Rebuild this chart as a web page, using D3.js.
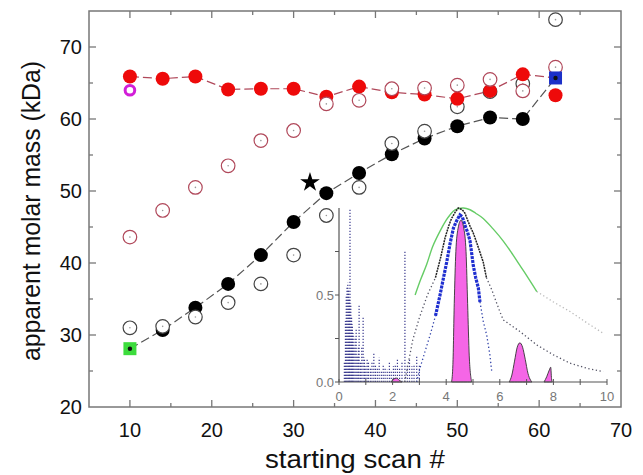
<!DOCTYPE html>
<html>
<head>
<meta charset="utf-8">
<script src="https://cdn.jsdelivr.net/npm/d3@7"></script>
<style>
  body { margin: 0; background: #fff; }
  svg text { font-family: "Liberation Sans", Arial, sans-serif; }
</style>
</head>
<body>
<svg id="mainSvg" width="643" height="475"></svg>
<script>
// ---- main plot data ----
var scans = [10, 14, 18, 22, 26, 30, 34, 38, 42, 46, 50, 54, 58, 62];
var redFilled = [65.9, 65.6, 65.9, 64.1, 64.2, 64.2, 63.1, 64.5, 63.7, 63.4, 62.8, 63.9, 66.2, 63.3];
var redOpen = [43.6, 47.3, 50.5, 53.5, 57.0, 58.4, 62.1, 62.6, 64.2, 64.3, 64.7, 65.5, 63.9, 67.2];
var blackFilled = [null, 30.7, 33.8, 37.1, 41.1, 45.7, 49.7, 52.5, 55.1, 57.3, 59.0, 60.2, 60.0, null];
var blackOpen = [31.0, 31.2, 32.5, 34.5, 37.1, 41.1, 46.6, 50.5, 56.6, 58.3, 61.7, 63.8, 64.9, 73.8];
var greenSquare = [10, 28.1];
var blueSquare = [62, 65.7];
var magentaRing = [10, 64.0];
var starPoint = [32, 51.2];
var xTicks = [10, 20, 30, 40, 50, 60, 70];
var yTicks = [20, 30, 40, 50, 60, 70];

// ---- inset data (x: 0..10, y: 0..1) ----
var insetXTicks = [0, 2, 4, 6, 8, 10];
var insetYTicks = [0.0, 0.5];
var streakX =   [0.2, 0.24, 0.27, 0.3, 0.33, 0.36, 0.39, 0.41, 0.44, 0.47, 0.5, 0.53, 0.56, 0.6, 0.64, 0.68, 0.72, 0.75, 0.8, 0.85, 0.9, 0.95, 1.0, 1.05, 1.1, 1.17, 1.23, 1.3, 1.36, 1.43, 1.5, 1.58, 1.65, 1.72, 1.8, 1.88, 1.95, 2.03, 2.1, 2.18, 2.26, 2.35, 2.46, 2.55, 2.63, 2.72, 2.8, 2.9, 3.0];
var streakTop = [0.12, 0.35, 0.5, 0.55, 0.57, 0.53, 0.48, 1.0, 0.45, 0.38, 0.33, 0.28, 0.2, 0.26, 0.3, 0.15, 0.2, 0.44, 0.12, 0.2, 0.38, 0.14, 0.09, 0.13, 0.12, 0.08, 0.11, 0.17, 0.1, 0.08, 0.14, 0.06, 0.1, 0.08, 0.07, 0.12, 0.06, 0.09, 0.1, 0.13, 0.08, 0.11, 0.75, 0.1, 0.13, 0.09, 0.1, 0.15, 0.1];
var greenX = [2.84, 3.05, 3.27, 3.5, 3.77, 4.0, 4.14, 4.33, 4.64, 4.89, 5.1, 5.38, 5.75, 6.13, 6.45, 6.75, 7.05, 7.38];
var greenY = [0.5, 0.59, 0.675, 0.78, 0.867, 0.93, 0.96, 0.99, 1.0, 0.99, 0.97, 0.94, 0.88, 0.81, 0.74, 0.67, 0.6, 0.52];
var greenTailX = [7.38, 8.0, 8.62, 9.25, 9.86];
var greenTailY = [0.52, 0.46, 0.405, 0.34, 0.28];
var blackX = [3.6, 3.8, 3.96, 4.1, 4.2, 4.35, 4.45, 4.6, 4.7, 4.8, 4.89, 5.0, 5.14, 5.25, 5.38, 5.5];
var blackY = [0.6, 0.72, 0.83, 0.9, 0.94, 0.98, 1.0, 0.99, 0.97, 0.93, 0.895, 0.86, 0.8, 0.75, 0.69, 0.6];
var blackRiseX = [2.45, 2.6, 2.75, 3.0, 3.3, 3.6];
var blackRiseY = [0.0, 0.12, 0.24, 0.37, 0.5, 0.6];
var blackTailX = [5.5, 5.7, 6.0, 6.13, 6.75, 7.38, 8.0, 8.62, 9.25, 9.86];
var blackTailY = [0.6, 0.53, 0.405, 0.357, 0.29, 0.213, 0.156, 0.108, 0.079, 0.06];
var blueX = [3.6, 3.77, 3.9, 4.02, 4.15, 4.27, 4.4, 4.51, 4.6, 4.7, 4.8, 4.89, 5.01, 5.1, 5.2, 5.26];
var blueY = [0.38, 0.5, 0.6, 0.69, 0.8, 0.885, 0.93, 0.96, 0.95, 0.9, 0.86, 0.81, 0.67, 0.6, 0.54, 0.46];
var blueRiseX = [2.9, 3.02, 3.2, 3.4, 3.6];
var blueRiseY = [0.0, 0.08, 0.17, 0.27, 0.38];
var blueTailX = [5.26, 5.38, 5.51, 5.63, 5.7];
var blueTailY = [0.46, 0.35, 0.27, 0.155, 0.06];
var peakMainX = [4.2, 4.25, 4.3, 4.36, 4.44, 4.55, 4.66, 4.74, 4.8, 4.86, 4.95];
var peakMainY = [0, 0.1, 0.45, 0.75, 0.88, 0.93, 0.88, 0.75, 0.45, 0.15, 0];
var peak2X = [6.35, 6.45, 6.55, 6.65, 6.75, 6.85, 6.95, 7.05, 7.15, 7.2];
var peak2Y = [0, 0.04, 0.12, 0.2, 0.225, 0.2, 0.13, 0.05, 0.01, 0];
var peak3X = [7.65, 7.75, 7.85, 7.9, 7.93, 7.96];
var peak3Y = [0, 0.03, 0.07, 0.085, 0.02, 0];
var peak0X = [1.95, 2.05, 2.15, 2.25, 2.35];
var peak0Y = [0, 0.018, 0.022, 0.01, 0];

var svg = d3.select("#mainSvg");

var x = d3.scaleLinear().domain([5, 70]).range([89, 621]);
var y = d3.scaleLinear().domain([20, 75]).range([407, 11]);

var frameColor = "#777";

// frame
svg.append("rect")
  .attr("x", x(5)).attr("y", y(75))
  .attr("width", x(70) - x(5)).attr("height", y(20) - y(75))
  .attr("fill", "none").attr("stroke", frameColor).attr("stroke-width", 1.5);

// inward ticks on all four sides
var xTickAll = d3.range(10, 70, 5);
var yTickAll = d3.range(25, 75, 5);
var tickG = svg.append("g").attr("stroke", frameColor).attr("stroke-width", 1.3);
xTickAll.forEach(function(t) {
  var len = (t % 10 === 0) ? 7 : 4;
  tickG.append("line").attr("x1", x(t)).attr("x2", x(t)).attr("y1", y(20)).attr("y2", y(20) - len);
  tickG.append("line").attr("x1", x(t)).attr("x2", x(t)).attr("y1", y(75)).attr("y2", y(75) + len);
});
yTickAll.forEach(function(t) {
  var len = (t % 10 === 0) ? 7 : 4;
  tickG.append("line").attr("y1", y(t)).attr("y2", y(t)).attr("x1", x(5)).attr("x2", x(5) + len);
  tickG.append("line").attr("y1", y(t)).attr("y2", y(t)).attr("x1", x(70)).attr("x2", x(70) - len);
});

// tick labels
svg.append("g").selectAll("text").data(xTicks).enter().append("text")
  .attr("x", function(d) { return x(d); }).attr("y", 437)
  .attr("text-anchor", "middle").attr("font-size", 20).attr("fill", "#111")
  .text(function(d) { return d; });
svg.append("g").selectAll("text").data(yTicks).enter().append("text")
  .attr("x", 82).attr("y", function(d) { return y(d) + 7; })
  .attr("text-anchor", "end").attr("font-size", 20).attr("fill", "#111")
  .text(function(d) { return d; });

// axis titles
svg.append("text").attr("x", 355).attr("y", 468)
  .attr("text-anchor", "middle").attr("font-size", 25).attr("fill", "#111")
  .attr("textLength", 180).attr("lengthAdjust", "spacingAndGlyphs")
  .text("starting scan #");
svg.append("text").attr("transform", "translate(40,211) rotate(-90)")
  .attr("text-anchor", "middle").attr("font-size", 25).attr("fill", "#111")
  .attr("textLength", 300).attr("lengthAdjust", "spacingAndGlyphs")
  .text("apparent molar mass (kDa)");

// ---- inset ----
var ix = d3.scaleLinear().domain([0, 10]).range([339, 607]);
var iy = d3.scaleLinear().domain([0, 1]).range([382, 208]);
var inset = svg.append("g").attr("class", "inset");

function pts(xa, ya) { return xa.map(function(v, i) { return [v, ya[i]]; }); }
var iline = d3.line().x(function(d) { return ix(d[0]); }).y(function(d) { return iy(d[1]); });
var iarea = d3.area().x(function(d) { return ix(d[0]); }).y0(iy(0)).y1(function(d) { return iy(d[1]); })
  .curve(d3.curveMonotoneX);

// noisy streaks
inset.append("g").selectAll("line").data(pts(streakX, streakTop)).enter().append("line")
  .attr("x1", function(d) { return ix(d[0]); }).attr("x2", function(d) { return ix(d[0]); })
  .attr("y1", iy(0)).attr("y2", function(d) { return iy(d[1]); })
  .attr("stroke", "#3b3b8f").attr("stroke-width", 1.2).attr("stroke-dasharray", "1.2,1.8");

// dotted tails
[[greenTailX, greenTailY, "#bbb"], [blackRiseX, blackRiseY, "#556"], [blackTailX, blackTailY, "#556"],
 [blueRiseX, blueRiseY, "#3344aa"], [blueTailX, blueTailY, "#3344aa"]].forEach(function(s) {
  inset.append("path").attr("d", iline(pts(s[0], s[1])))
    .attr("fill", "none").attr("stroke", s[2]).attr("stroke-width", 1.3).attr("stroke-dasharray", "1.3,2.5");
});

// green smooth curve
inset.append("path").attr("d", iline.curve(d3.curveCatmullRom)(pts(greenX, greenY)))
  .attr("fill", "none").attr("stroke", "#6c6").attr("stroke-width", 1.4);
iline.curve(d3.curveLinear);

// black curve
inset.append("path").attr("d", iline(pts(blackX, blackY)))
  .attr("fill", "none").attr("stroke", "#222").attr("stroke-width", 1.5).attr("stroke-dasharray", "2,0.8");

// blue data
inset.append("path").attr("d", iline(pts(blueX, blueY)))
  .attr("fill", "none").attr("stroke", "#1f2fd0").attr("stroke-width", 3.2).attr("stroke-dasharray", "3,1");

// pink peaks
[[peak0X, peak0Y], [peakMainX, peakMainY], [peak2X, peak2Y], [peak3X, peak3Y]].forEach(function(p) {
  inset.append("path").attr("d", iarea(pts(p[0], p[1])))
    .attr("fill", "#f566e6").attr("stroke", "#333").attr("stroke-width", 0.9);
});

// inset axes
inset.append("line").attr("x1", ix(0)).attr("x2", ix(0)).attr("y1", iy(0)).attr("y2", iy(1))
  .attr("stroke", "#555").attr("stroke-width", 1.2);
inset.append("line").attr("x1", ix(0)).attr("x2", ix(10)).attr("y1", iy(0)).attr("y2", iy(0))
  .attr("stroke", "#555").attr("stroke-width", 1.2);
d3.range(0, 11, 1).forEach(function(t) {
  inset.append("line").attr("x1", ix(t)).attr("x2", ix(t)).attr("y1", iy(0) - 3).attr("y2", iy(0) + 3)
    .attr("stroke", "#555").attr("stroke-width", 1);
});
[0, 0.25, 0.5, 0.75].forEach(function(t) {
  inset.append("line").attr("x1", ix(0) - 4).attr("x2", ix(0)).attr("y1", iy(t)).attr("y2", iy(t))
    .attr("stroke", "#555").attr("stroke-width", 1);
});
inset.append("g").selectAll("text").data(insetXTicks).enter().append("text")
  .attr("x", function(d) { return ix(d); }).attr("y", 401)
  .attr("text-anchor", "middle").attr("font-size", 13).attr("fill", "#777")
  .text(function(d) { return d; });
inset.append("g").selectAll("text").data(insetYTicks).enter().append("text")
  .attr("x", 334).attr("y", function(d) { return iy(d) + 5; })
  .attr("text-anchor", "end").attr("font-size", 13).attr("fill", "#777")
  .text(function(d) { return d.toFixed(1); });

// ---- main series ----
var line = d3.line().x(function(d) { return x(d[0]); }).y(function(d) { return y(d[1]); });

var redLinePts = scans.slice(0, 13).map(function(s, i) { return [s, redFilled[i]]; }).concat([blueSquare]);
var blackLinePts = [greenSquare].concat(scans.slice(1, 13).map(function(s, i) { return [s, blackFilled[i + 1]]; })).concat([blueSquare]);

svg.append("path").attr("d", line(blackLinePts))
  .attr("fill", "none").attr("stroke", "#555").attr("stroke-width", 1.2).attr("stroke-dasharray", "9,4");
svg.append("path").attr("d", line(redLinePts))
  .attr("fill", "none").attr("stroke", "#b0485a").attr("stroke-width", 1.2).attr("stroke-dasharray", "9,4");

function filled(vals, color) {
  svg.append("g").selectAll("circle").data(scans.map(function(s, i) { return [s, vals[i]]; }).filter(function(d) { return d[1] != null; }))
    .enter().append("circle")
    .attr("cx", function(d) { return x(d[0]); }).attr("cy", function(d) { return y(d[1]); })
    .attr("r", 7).attr("fill", color);
}
function open(vals, color) {
  var g = svg.append("g");
  var data = scans.map(function(s, i) { return [s, vals[i]]; }).filter(function(d) { return d[1] != null; });
  g.selectAll("circle.o").data(data).enter().append("circle")
    .attr("cx", function(d) { return x(d[0]); }).attr("cy", function(d) { return y(d[1]); })
    .attr("r", 6.8).attr("fill", "#fff").attr("stroke", color).attr("stroke-width", 1.2);
  g.selectAll("circle.c").data(data).enter().append("circle")
    .attr("cx", function(d) { return x(d[0]); }).attr("cy", function(d) { return y(d[1]); })
    .attr("r", 0.8).attr("fill", "#999");
}

filled(blackFilled, "#000");
open(blackOpen, "#444");
filled(redFilled, "#ee0a0a");
open(redOpen, "#b0485a");

// magenta ring
svg.append("circle").attr("cx", x(magentaRing[0])).attr("cy", y(magentaRing[1]))
  .attr("r", 4.8).attr("fill", "#fff").attr("stroke", "#d21ed8").attr("stroke-width", 3);

// squares
[[greenSquare, "#3cdc3c"], [blueSquare, "#1c30c8"]].forEach(function(s) {
  svg.append("rect").attr("x", x(s[0][0]) - 6.5).attr("y", y(s[0][1]) - 6.5)
    .attr("width", 13).attr("height", 13).attr("fill", s[1]);
  svg.append("circle").attr("cx", x(s[0][0])).attr("cy", y(s[0][1])).attr("r", 2.2).attr("fill", "#111");
});

// star
svg.append("path")
  .attr("d", d3.symbol().type(d3.symbolStar).size(120)())
  .attr("transform", "translate(" + x(starPoint[0]) + "," + y(starPoint[1]) + ")")
  .attr("fill", "#000");
</script>
</body>
</html>
